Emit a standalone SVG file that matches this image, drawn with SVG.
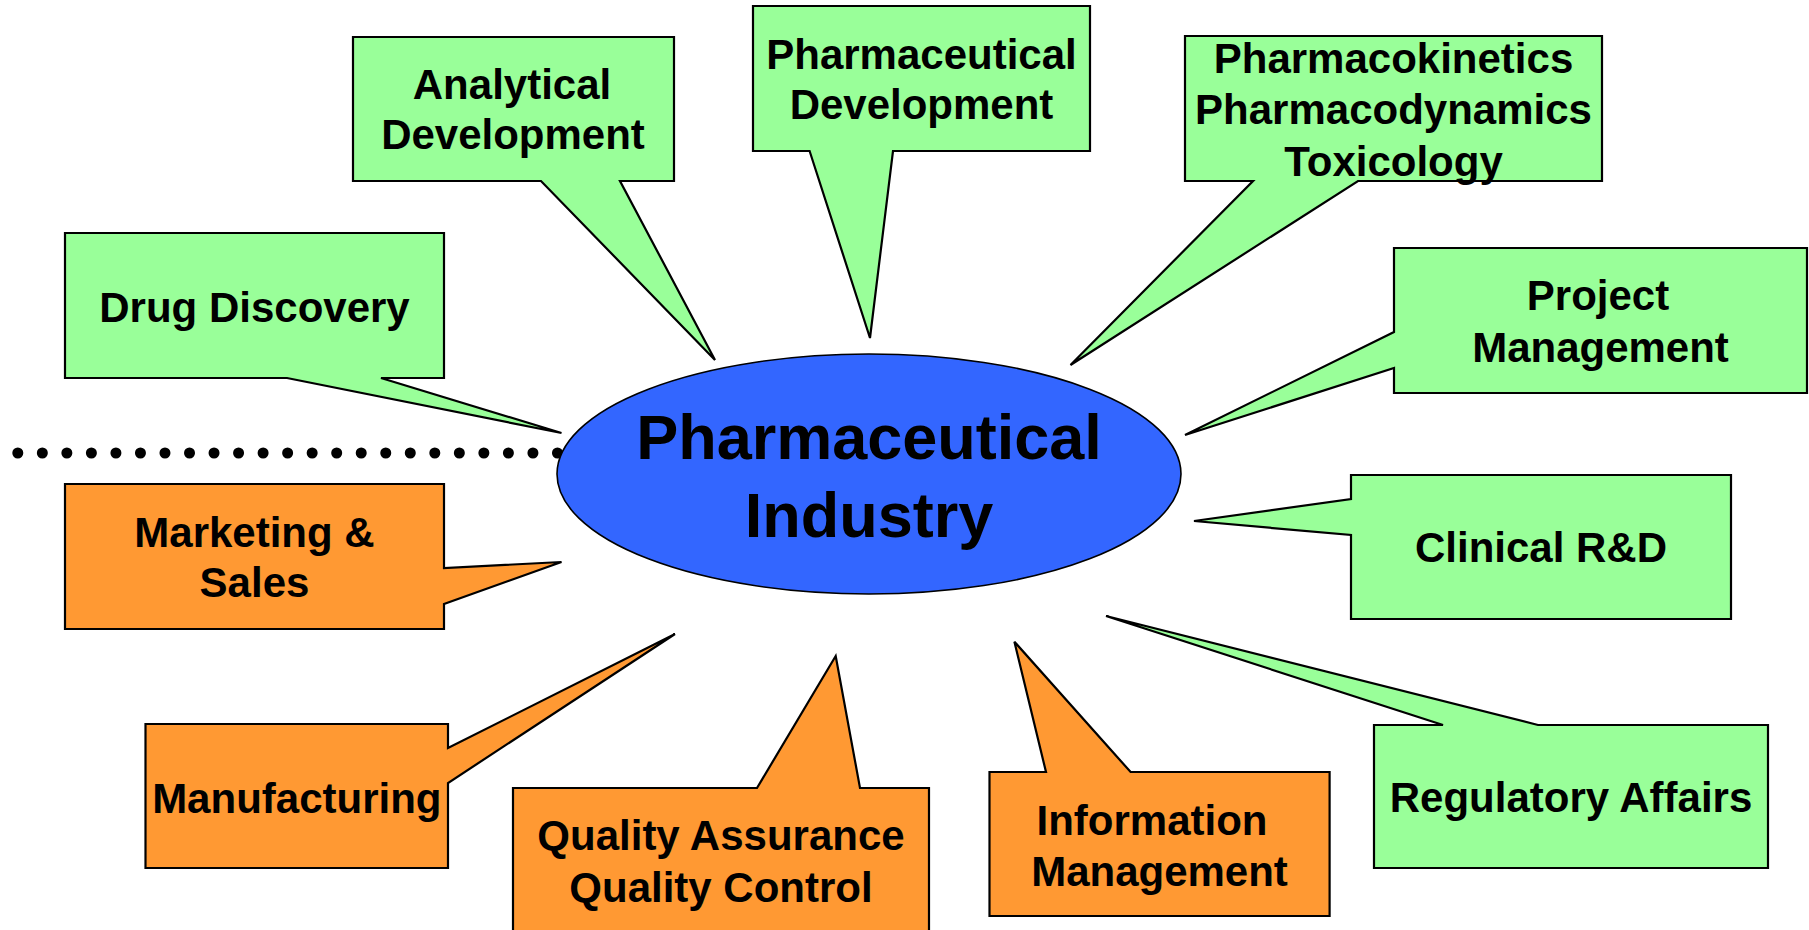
<svg xmlns="http://www.w3.org/2000/svg" width="1809" height="930" viewBox="0 0 1809 930">
<style>
.g{fill:#99FF99;stroke:#000;stroke-width:2.2;stroke-linejoin:miter}
.o{fill:#FF9933;stroke:#000;stroke-width:2.2;stroke-linejoin:miter}
text{font-family:"Liberation Sans",Arial,sans-serif;font-weight:bold;fill:#000;text-anchor:middle}
.t{font-size:42px}
.big{font-size:63px}
</style>
<rect width="1809" height="930" fill="#fff"/>
<g id="connectors">
<line x1="17.8" y1="453" x2="557.5" y2="453" stroke="#000" stroke-width="11" stroke-linecap="round" stroke-dasharray="0 24.53"/>
</g>
<g id="drug-discovery">
<path class="g" d="M65,233 H444 V378 H381 L561.5,433 L287,378 H65 Z"/>
<text class="t" x="254.5" y="321.7">Drug Discovery</text>
</g>
<g id="analytical-development">
<path class="g" d="M353,37 H674 V181 H620 L715,360 L541,181 H353 Z"/>
<text class="t" x="512" y="99">Analytical</text>
<text class="t" x="513" y="149">Development</text>
</g>
<g id="pharmaceutical-development">
<path class="g" d="M753,6 H1090 V151 H893 L870,338 L809.6,151 H753 Z"/>
<text class="t" x="921.5" y="69">Pharmaceutical</text>
<text class="t" x="921.5" y="119">Development</text>
</g>
<g id="pk-pd-tox">
<path class="g" d="M1185,36 H1602 V181 H1358 L1070.5,365 L1253,181 H1185 Z"/>
<text class="t" x="1393.5" y="72.7">Pharmacokinetics</text>
<text class="t" x="1393.5" y="124">Pharmacodynamics</text>
<text class="t" x="1393.5" y="175.7">Toxicology</text>
</g>
<g id="project-management">
<path class="g" d="M1394,248 H1807 V393 H1394 V368 L1185,435 L1394,332 Z"/>
<text class="t" x="1598" y="310">Project</text>
<text class="t" x="1600.5" y="361.7">Management</text>
</g>
<g id="clinical-rd">
<path class="g" d="M1351,475 H1731 V619 H1351 V535 L1194,521 L1351,499 Z"/>
<text class="t" x="1541" y="561.7">Clinical R&amp;D</text>
</g>
<g id="regulatory-affairs">
<path class="g" d="M1374,725 H1443 L1106,616 L1538,725 H1768 V868 H1374 Z"/>
<text class="t" x="1571" y="812">Regulatory Affairs</text>
</g>
<g id="marketing-sales">
<path class="o" d="M65,484 H444 V568 L561.5,562 L444,604 V629 H65 Z"/>
<text class="t" x="254.5" y="547">Marketing &amp;</text>
<text class="t" x="254.5" y="596.7">Sales</text>
</g>
<g id="manufacturing">
<path class="o" d="M145.5,724 H448 V748 L675,634 L448,783 V868 H145.5 Z"/>
<text class="t" x="296.8" y="812.7">Manufacturing</text>
</g>
<g id="quality">
<path class="o" d="M513,788 H757 L835.7,656 L860,788 H929 V940 H513 Z"/>
<text class="t" x="721" y="850">Quality Assurance</text>
<text class="t" x="721" y="901.7">Quality Control</text>
</g>
<g id="information-management">
<path class="o" d="M989.5,772 H1046 L1014.4,641.7 L1130.6,772 H1329.6 V916 H989.5 Z"/>
<text class="t" x="1152" y="835">Information</text>
<text class="t" x="1159.5" y="885.7">Management</text>
</g>
<g id="pharmaceutical-industry">
<ellipse cx="869" cy="474" rx="312" ry="120" fill="#3366FF" stroke="#000" stroke-width="1.6"/>
<text class="big" x="869" y="459">Pharmaceutical</text>
<text class="big" x="869" y="537">Industry</text>
</g>
</svg>
